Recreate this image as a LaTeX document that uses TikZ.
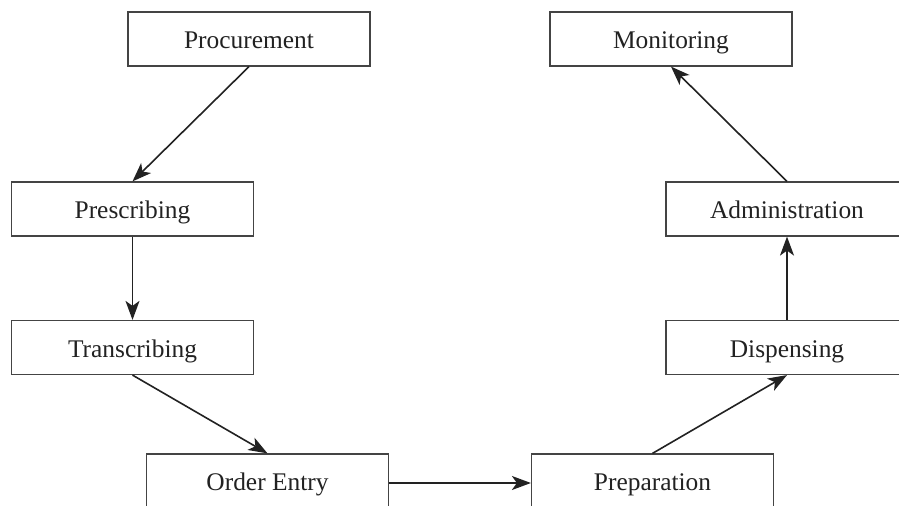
\documentclass[tikz,border=0pt]{standalone}
\usepackage{fontspec}
\setmainfont{Liberation Serif}
\usetikzlibrary{arrows.meta}
\definecolor{ink}{HTML}{222222}
\definecolor{boxline}{HTML}{444444}
\tikzset{
  stepbox/.style={draw=boxline, line width=0.6pt, fill=white, inner sep=0pt,
    minimum width=121pt, minimum height=27pt, text=ink,
    text height=11pt, text depth=1pt,
    font=\fontsize{12.7pt}{14pt}\selectfont},
  flow/.style={draw=ink, line width=0.8pt, -{Stealth[length=9.5pt,width=7pt,inset=2.5pt]}}
}
\begin{document}
\begin{tikzpicture}[x=0.5pt,y=-0.5pt]
\clip (0,0) rectangle (899,506);
\fill[white] (0,0) rectangle (899,506);
\node[stepbox] (proc)  at (249,39)    {Procurement};
\node[stepbox] (mon)   at (671,39)    {Monitoring};
\node[stepbox] (presc) at (132.5,209) {Prescribing};
\node[stepbox] (admin) at (787,209)   {Administration};
\node[stepbox] (trans) at (132.5,347.5) {Transcribing};
\node[stepbox] (disp)  at (787,347.5) {Dispensing};
\node[stepbox] (order) at (267.5,481) {Order Entry};
\node[stepbox] (prep)  at (652.5,481) {Preparation};
\draw[flow] (proc.south) -- (presc.north);
\draw[flow] (presc.south) -- (trans.north);
\draw[flow] (trans.south) -- (order.north);
\draw[flow] (order.east |- 0,483) -- (prep.west |- 0,483);
\draw[flow] (prep.north) -- (disp.south);
\draw[flow] (disp.north) -- (admin.south);
\draw[flow] (admin.north) -- (mon.south);
\end{tikzpicture}
\end{document}
